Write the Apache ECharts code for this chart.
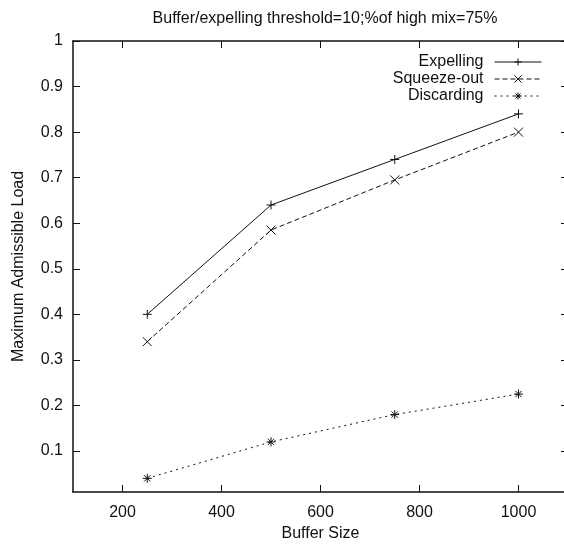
<!DOCTYPE html>
<html>
<head>
<meta charset="utf-8">
<script src="https://cdn.jsdelivr.net/npm/echarts@6/dist/echarts.min.js"></script>
<style>
  html, body { margin: 0; padding: 0; background: #fff; }
  #chart { width: 564px; height: 544px; }
</style>
</head>
<body>
<div id="chart"></div>
<script>
var bufferSizes = [250, 500, 750, 1000]
var expelling = [0.40, 0.64, 0.74, 0.84]
var squeezeOut = [0.34, 0.585, 0.695, 0.80]
var discarding = [0.04, 0.12, 0.18, 0.225]
var xTicks = [200, 400, 600, 800, 1000]
var yTicks = [0.1, 0.2, 0.3, 0.4, 0.5, 0.6, 0.7, 0.8, 0.9, 1]

var font = 'Liberation Sans'
var ink = '#111'

// gnuplot style point markers
var plusMark = 'path://M0,5L10,5M5,0L5,10'
var crossMark = 'path://M1,1L9,9M9,1L1,9'
var starMark = 'path://M0,5L10,5M5,0L5,10M1.5,1.5L8.5,8.5M8.5,1.5L1.5,8.5'

function pairs(xs, ys) {
  return xs.map(function(x, i) { return [x, ys[i]] })
}

function makeSeries(name, ys, mark, dash) {
  return {
    name: name,
    type: 'line',
    data: pairs(bufferSizes, ys),
    symbol: mark,
    symbolSize: 9,
    showAllSymbol: true,
    xAxisIndex: 0,
    yAxisIndex: 0,
    lineStyle: { color: ink, width: 1, type: dash },
    itemStyle: { color: ink, borderColor: ink, borderWidth: 1 },
    emphasis: { disabled: true },
    animation: false
  }
}

var chart = echarts.init(document.getElementById('chart'))

var option = {
  backgroundColor: '#fff',
  animation: false,
  title: {
    text: 'Buffer/expelling threshold=10;%of high mix=75%',
    left: 320,
    textAlign: 'center',
    top: 6,
    textStyle: { fontFamily: font, fontSize: 16, fontWeight: 'normal', color: ink }
  },
  legend: {
    orient: 'vertical',
    right: 17,
    top: 49,
    align: 'right',
    itemWidth: 47,
    itemHeight: 9,
    itemGap: 1,
    lineStyle: { width: 1 },
    itemStyle: { borderWidth: 1 },
    textStyle: { fontFamily: font, fontSize: 16, lineHeight: 16, color: ink, padding: [0, 6, 0, 0] },
    data: ['Expelling', 'Squeeze-out', 'Discarding']
  },
  grid: { left: 73, right: -4, top: 41, bottom: 52, outerBoundsMode: 'none' },
  xAxis: [
    {
      type: 'value',
      min: 100,
      max: 1100,
      name: 'Buffer Size',
      nameLocation: 'middle',
      nameGap: 33,
      nameTextStyle: { fontFamily: font, fontSize: 16, color: ink },
      axisLine: { lineStyle: { color: ink, width: 1.5 } },
      axisTick: { inside: true, length: 7, customValues: xTicks, lineStyle: { color: ink } },
      axisLabel: {
        customValues: xTicks,
        margin: 13,
        fontFamily: font,
        fontSize: 16,
        color: ink,
        formatter: function(v) { return String(v) }
      },
      splitLine: { show: false }
    },
    {
      type: 'value',
      position: 'top',
      min: 100,
      max: 1100,
      axisLine: { lineStyle: { color: ink, width: 1.5 } },
      axisTick: { inside: true, length: 7, customValues: xTicks, lineStyle: { color: ink } },
      axisLabel: { show: false },
      splitLine: { show: false }
    }
  ],
  yAxis: [
    {
      type: 'value',
      min: 0.01,
      max: 1,
      name: 'Maximum Admissible Load',
      nameLocation: 'middle',
      nameGap: 46,
      nameTextStyle: { fontFamily: font, fontSize: 16, color: ink },
      axisLine: { lineStyle: { color: ink, width: 1.5 } },
      axisTick: { inside: true, length: 7, customValues: yTicks, lineStyle: { color: ink } },
      axisLabel: { customValues: yTicks, margin: 10, fontFamily: font, fontSize: 16, color: ink },
      splitLine: { show: false }
    },
    {
      // mirror ticks only, the border itself falls off the picture
      type: 'value',
      position: 'right',
      min: 0.01,
      max: 1,
      axisLine: { show: false },
      axisTick: { inside: true, length: 7, customValues: yTicks, lineStyle: { color: ink } },
      axisLabel: { show: false },
      splitLine: { show: false }
    }
  ],
  series: [
    makeSeries('Expelling', expelling, plusMark, 'solid'),
    makeSeries('Squeeze-out', squeezeOut, crossMark, [5, 3]),
    makeSeries('Discarding', discarding, starMark, [2, 4])
  ]
}

chart.setOption(option)
</script>
</body>
</html>
